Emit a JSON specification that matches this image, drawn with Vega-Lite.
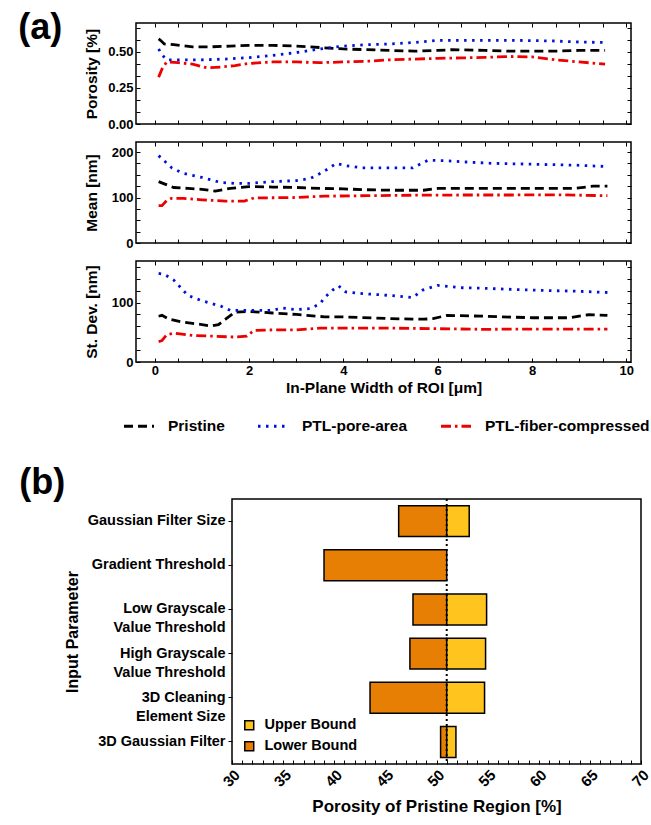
{
  "$schema": "https://vega.github.io/schema/vega-lite/v6.json",
  "padding": {"left": 15, "top": 10, "right": 1, "bottom": 3},
  "config": {
    "font": "Liberation Sans",
    "view": {"stroke": "black", "strokeWidth": 1.5},
    "axis": {"grid": false, "domain": false, "labelFontWeight": "bold", "titleFontWeight": "bold", "labelColor": "black", "titleColor": "black", "tickColor": "black", "labelFont": "Liberation Sans", "titleFont": "Liberation Sans", "labelOverlap": false, "labelFlush": false},
    "legend": {"labelFont": "Liberation Sans", "labelColor": "black"},
    "title": {"font": "Liberation Sans", "color": "black"}
  },
  "datasets": {
    "porosity": [
      {"series": "Pristine", "w": 0.08, "v": 0.59}, {"series": "Pristine", "w": 0.12, "v": 0.58}, {"series": "Pristine", "w": 0.2, "v": 0.555}, {"series": "Pristine", "w": 0.4, "v": 0.55}, {"series": "Pristine", "w": 0.8, "v": 0.535}, {"series": "Pristine", "w": 1.2, "v": 0.535}, {"series": "Pristine", "w": 1.6, "v": 0.54}, {"series": "Pristine", "w": 2.0, "v": 0.545}, {"series": "Pristine", "w": 2.5, "v": 0.545}, {"series": "Pristine", "w": 3.0, "v": 0.54}, {"series": "Pristine", "w": 3.5, "v": 0.53}, {"series": "Pristine", "w": 4.0, "v": 0.52}, {"series": "Pristine", "w": 4.5, "v": 0.515}, {"series": "Pristine", "w": 5.0, "v": 0.51}, {"series": "Pristine", "w": 5.5, "v": 0.505}, {"series": "Pristine", "w": 6.0, "v": 0.51}, {"series": "Pristine", "w": 6.3, "v": 0.515}, {"series": "Pristine", "w": 7.0, "v": 0.51}, {"series": "Pristine", "w": 7.5, "v": 0.505}, {"series": "Pristine", "w": 8.0, "v": 0.505}, {"series": "Pristine", "w": 8.5, "v": 0.505}, {"series": "Pristine", "w": 9.0, "v": 0.51}, {"series": "Pristine", "w": 9.55, "v": 0.51},
      {"series": "PTL-pore-area", "w": 0.08, "v": 0.52}, {"series": "PTL-pore-area", "w": 0.15, "v": 0.48}, {"series": "PTL-pore-area", "w": 0.25, "v": 0.445}, {"series": "PTL-pore-area", "w": 0.5, "v": 0.445}, {"series": "PTL-pore-area", "w": 1.0, "v": 0.445}, {"series": "PTL-pore-area", "w": 1.5, "v": 0.45}, {"series": "PTL-pore-area", "w": 2.0, "v": 0.46}, {"series": "PTL-pore-area", "w": 2.5, "v": 0.475}, {"series": "PTL-pore-area", "w": 3.0, "v": 0.495}, {"series": "PTL-pore-area", "w": 3.5, "v": 0.52}, {"series": "PTL-pore-area", "w": 4.0, "v": 0.54}, {"series": "PTL-pore-area", "w": 4.5, "v": 0.55}, {"series": "PTL-pore-area", "w": 5.0, "v": 0.555}, {"series": "PTL-pore-area", "w": 5.5, "v": 0.565}, {"series": "PTL-pore-area", "w": 6.0, "v": 0.58}, {"series": "PTL-pore-area", "w": 6.5, "v": 0.58}, {"series": "PTL-pore-area", "w": 7.0, "v": 0.58}, {"series": "PTL-pore-area", "w": 7.5, "v": 0.58}, {"series": "PTL-pore-area", "w": 8.0, "v": 0.578}, {"series": "PTL-pore-area", "w": 8.5, "v": 0.575}, {"series": "PTL-pore-area", "w": 9.0, "v": 0.568}, {"series": "PTL-pore-area", "w": 9.55, "v": 0.565},
      {"series": "PTL-fiber-compressed", "w": 0.08, "v": 0.325}, {"series": "PTL-fiber-compressed", "w": 0.15, "v": 0.38}, {"series": "PTL-fiber-compressed", "w": 0.25, "v": 0.43}, {"series": "PTL-fiber-compressed", "w": 0.5, "v": 0.425}, {"series": "PTL-fiber-compressed", "w": 0.8, "v": 0.415}, {"series": "PTL-fiber-compressed", "w": 1.1, "v": 0.39}, {"series": "PTL-fiber-compressed", "w": 1.4, "v": 0.395}, {"series": "PTL-fiber-compressed", "w": 1.7, "v": 0.405}, {"series": "PTL-fiber-compressed", "w": 2.0, "v": 0.42}, {"series": "PTL-fiber-compressed", "w": 2.5, "v": 0.43}, {"series": "PTL-fiber-compressed", "w": 3.0, "v": 0.43}, {"series": "PTL-fiber-compressed", "w": 3.5, "v": 0.425}, {"series": "PTL-fiber-compressed", "w": 4.0, "v": 0.43}, {"series": "PTL-fiber-compressed", "w": 4.5, "v": 0.435}, {"series": "PTL-fiber-compressed", "w": 5.0, "v": 0.445}, {"series": "PTL-fiber-compressed", "w": 5.5, "v": 0.45}, {"series": "PTL-fiber-compressed", "w": 6.0, "v": 0.455}, {"series": "PTL-fiber-compressed", "w": 6.5, "v": 0.458}, {"series": "PTL-fiber-compressed", "w": 7.0, "v": 0.462}, {"series": "PTL-fiber-compressed", "w": 7.5, "v": 0.468}, {"series": "PTL-fiber-compressed", "w": 8.0, "v": 0.465}, {"series": "PTL-fiber-compressed", "w": 8.5, "v": 0.445}, {"series": "PTL-fiber-compressed", "w": 9.0, "v": 0.43}, {"series": "PTL-fiber-compressed", "w": 9.55, "v": 0.415}
    ],
    "mean": [
      {"series": "Pristine", "w": 0.08, "v": 135}, {"series": "Pristine", "w": 0.2, "v": 130}, {"series": "Pristine", "w": 0.4, "v": 122}, {"series": "Pristine", "w": 0.7, "v": 120}, {"series": "Pristine", "w": 1.0, "v": 118}, {"series": "Pristine", "w": 1.28, "v": 114}, {"series": "Pristine", "w": 1.6, "v": 120}, {"series": "Pristine", "w": 2.0, "v": 124}, {"series": "Pristine", "w": 2.5, "v": 123}, {"series": "Pristine", "w": 3.0, "v": 122}, {"series": "Pristine", "w": 3.5, "v": 120}, {"series": "Pristine", "w": 4.0, "v": 119}, {"series": "Pristine", "w": 4.5, "v": 117}, {"series": "Pristine", "w": 5.0, "v": 116}, {"series": "Pristine", "w": 5.7, "v": 116}, {"series": "Pristine", "w": 6.0, "v": 120}, {"series": "Pristine", "w": 7.0, "v": 120}, {"series": "Pristine", "w": 8.0, "v": 120}, {"series": "Pristine", "w": 8.9, "v": 120}, {"series": "Pristine", "w": 9.3, "v": 125}, {"series": "Pristine", "w": 9.6, "v": 125},
      {"series": "PTL-pore-area", "w": 0.08, "v": 192}, {"series": "PTL-pore-area", "w": 0.36, "v": 165}, {"series": "PTL-pore-area", "w": 0.6, "v": 153}, {"series": "PTL-pore-area", "w": 1.0, "v": 144}, {"series": "PTL-pore-area", "w": 1.4, "v": 133}, {"series": "PTL-pore-area", "w": 1.7, "v": 131}, {"series": "PTL-pore-area", "w": 2.0, "v": 131}, {"series": "PTL-pore-area", "w": 2.5, "v": 135}, {"series": "PTL-pore-area", "w": 3.0, "v": 137}, {"series": "PTL-pore-area", "w": 3.3, "v": 142}, {"series": "PTL-pore-area", "w": 3.55, "v": 155}, {"series": "PTL-pore-area", "w": 3.7, "v": 165}, {"series": "PTL-pore-area", "w": 3.85, "v": 175}, {"series": "PTL-pore-area", "w": 4.05, "v": 170}, {"series": "PTL-pore-area", "w": 4.4, "v": 165}, {"series": "PTL-pore-area", "w": 5.0, "v": 165}, {"series": "PTL-pore-area", "w": 5.47, "v": 165}, {"series": "PTL-pore-area", "w": 5.64, "v": 174}, {"series": "PTL-pore-area", "w": 5.8, "v": 182}, {"series": "PTL-pore-area", "w": 6.17, "v": 181}, {"series": "PTL-pore-area", "w": 6.6, "v": 178}, {"series": "PTL-pore-area", "w": 7.17, "v": 175}, {"series": "PTL-pore-area", "w": 8.1, "v": 173}, {"series": "PTL-pore-area", "w": 8.94, "v": 171}, {"series": "PTL-pore-area", "w": 9.6, "v": 168},
      {"series": "PTL-fiber-compressed", "w": 0.08, "v": 82}, {"series": "PTL-fiber-compressed", "w": 0.15, "v": 82}, {"series": "PTL-fiber-compressed", "w": 0.25, "v": 93}, {"series": "PTL-fiber-compressed", "w": 0.35, "v": 98}, {"series": "PTL-fiber-compressed", "w": 0.6, "v": 98}, {"series": "PTL-fiber-compressed", "w": 1.0, "v": 95}, {"series": "PTL-fiber-compressed", "w": 1.5, "v": 92}, {"series": "PTL-fiber-compressed", "w": 1.9, "v": 92}, {"series": "PTL-fiber-compressed", "w": 2.1, "v": 99}, {"series": "PTL-fiber-compressed", "w": 3.0, "v": 100}, {"series": "PTL-fiber-compressed", "w": 3.6, "v": 103}, {"series": "PTL-fiber-compressed", "w": 4.5, "v": 104}, {"series": "PTL-fiber-compressed", "w": 5.5, "v": 105}, {"series": "PTL-fiber-compressed", "w": 6.5, "v": 105.5}, {"series": "PTL-fiber-compressed", "w": 7.5, "v": 105.5}, {"series": "PTL-fiber-compressed", "w": 8.5, "v": 106}, {"series": "PTL-fiber-compressed", "w": 9.6, "v": 104}
    ],
    "std": [
      {"series": "Pristine", "w": 0.08, "v": 77}, {"series": "Pristine", "w": 0.15, "v": 78.5}, {"series": "Pristine", "w": 0.3, "v": 72}, {"series": "Pristine", "w": 0.6, "v": 67}, {"series": "Pristine", "w": 1.0, "v": 63}, {"series": "Pristine", "w": 1.2, "v": 60.5}, {"series": "Pristine", "w": 1.35, "v": 63}, {"series": "Pristine", "w": 1.5, "v": 72}, {"series": "Pristine", "w": 1.7, "v": 84}, {"series": "Pristine", "w": 2.0, "v": 85}, {"series": "Pristine", "w": 2.5, "v": 82.5}, {"series": "Pristine", "w": 3.0, "v": 80}, {"series": "Pristine", "w": 3.6, "v": 76}, {"series": "Pristine", "w": 4.0, "v": 76}, {"series": "Pristine", "w": 5.0, "v": 73}, {"series": "Pristine", "w": 5.7, "v": 72}, {"series": "Pristine", "w": 5.9, "v": 73}, {"series": "Pristine", "w": 6.2, "v": 78.5}, {"series": "Pristine", "w": 7.0, "v": 77}, {"series": "Pristine", "w": 8.0, "v": 74.5}, {"series": "Pristine", "w": 8.8, "v": 74.5}, {"series": "Pristine", "w": 9.2, "v": 79.5}, {"series": "Pristine", "w": 9.6, "v": 78.5},
      {"series": "PTL-pore-area", "w": 0.08, "v": 149}, {"series": "PTL-pore-area", "w": 0.2, "v": 147.5}, {"series": "PTL-pore-area", "w": 0.4, "v": 138}, {"series": "PTL-pore-area", "w": 0.7, "v": 112}, {"series": "PTL-pore-area", "w": 1.0, "v": 103}, {"series": "PTL-pore-area", "w": 1.4, "v": 94}, {"series": "PTL-pore-area", "w": 1.6, "v": 87}, {"series": "PTL-pore-area", "w": 2.0, "v": 87}, {"series": "PTL-pore-area", "w": 2.5, "v": 87}, {"series": "PTL-pore-area", "w": 2.7, "v": 91}, {"series": "PTL-pore-area", "w": 3.0, "v": 88}, {"series": "PTL-pore-area", "w": 3.3, "v": 90}, {"series": "PTL-pore-area", "w": 3.5, "v": 98}, {"series": "PTL-pore-area", "w": 3.62, "v": 110}, {"series": "PTL-pore-area", "w": 3.77, "v": 121}, {"series": "PTL-pore-area", "w": 3.9, "v": 128}, {"series": "PTL-pore-area", "w": 4.05, "v": 118}, {"series": "PTL-pore-area", "w": 4.4, "v": 115}, {"series": "PTL-pore-area", "w": 5.0, "v": 112}, {"series": "PTL-pore-area", "w": 5.47, "v": 108.5}, {"series": "PTL-pore-area", "w": 5.68, "v": 121}, {"series": "PTL-pore-area", "w": 6.0, "v": 129}, {"series": "PTL-pore-area", "w": 6.53, "v": 125}, {"series": "PTL-pore-area", "w": 7.0, "v": 124}, {"series": "PTL-pore-area", "w": 8.0, "v": 121}, {"series": "PTL-pore-area", "w": 9.0, "v": 119}, {"series": "PTL-pore-area", "w": 9.6, "v": 117},
      {"series": "PTL-fiber-compressed", "w": 0.08, "v": 34}, {"series": "PTL-fiber-compressed", "w": 0.15, "v": 36}, {"series": "PTL-fiber-compressed", "w": 0.25, "v": 46}, {"series": "PTL-fiber-compressed", "w": 0.4, "v": 48.6}, {"series": "PTL-fiber-compressed", "w": 0.8, "v": 44.6}, {"series": "PTL-fiber-compressed", "w": 1.2, "v": 43.5}, {"series": "PTL-fiber-compressed", "w": 1.7, "v": 42}, {"series": "PTL-fiber-compressed", "w": 1.95, "v": 43.5}, {"series": "PTL-fiber-compressed", "w": 2.1, "v": 53}, {"series": "PTL-fiber-compressed", "w": 2.5, "v": 54}, {"series": "PTL-fiber-compressed", "w": 3.0, "v": 54}, {"series": "PTL-fiber-compressed", "w": 3.5, "v": 57}, {"series": "PTL-fiber-compressed", "w": 4.0, "v": 57}, {"series": "PTL-fiber-compressed", "w": 5.0, "v": 57}, {"series": "PTL-fiber-compressed", "w": 6.0, "v": 56}, {"series": "PTL-fiber-compressed", "w": 7.0, "v": 55}, {"series": "PTL-fiber-compressed", "w": 8.0, "v": 55.5}, {"series": "PTL-fiber-compressed", "w": 9.6, "v": 55.5}
    ],
    "bars": [
      {"param": "Gaussian Filter Size", "bound": "Lower Bound", "start": 46.3, "end": 51.0},
      {"param": "Gaussian Filter Size", "bound": "Upper Bound", "start": 51.0, "end": 53.2},
      {"param": "Gradient Threshold", "bound": "Lower Bound", "start": 39.0, "end": 51.0},
      {"param": "Low Grayscale Value Threshold", "bound": "Lower Bound", "start": 47.7, "end": 51.0},
      {"param": "Low Grayscale Value Threshold", "bound": "Upper Bound", "start": 51.0, "end": 54.9},
      {"param": "High Grayscale Value Threshold", "bound": "Lower Bound", "start": 47.4, "end": 51.0},
      {"param": "High Grayscale Value Threshold", "bound": "Upper Bound", "start": 51.0, "end": 54.8},
      {"param": "3D Cleaning Element Size", "bound": "Lower Bound", "start": 43.5, "end": 51.0},
      {"param": "3D Cleaning Element Size", "bound": "Upper Bound", "start": 51.0, "end": 54.7},
      {"param": "3D Gaussian Filter", "bound": "Lower Bound", "start": 50.4, "end": 51.0},
      {"param": "3D Gaussian Filter", "bound": "Upper Bound", "start": 51.0, "end": 51.9}
    ],
    "pristine": [{"start": 51.0}]
  },
  "spacing": 28,
  "resolve": {
    "scale": {"color": "independent", "strokeDash": "independent", "fill": "independent"},
    "legend": {"color": "independent", "strokeDash": "independent", "fill": "independent"}
  },
  "vconcat": [
    {
      "spacing": 0,
      "resolve": {
        "scale": {"color": "independent", "strokeDash": "independent"},
        "legend": {"color": "independent", "strokeDash": "independent"}
      },
      "hconcat": [
        {"width": 1, "height": 1, "view": {"stroke": "transparent"}, "data": {"values": []}, "mark": {"type": "point", "opacity": 0}},
        {
          "title": {"text": "(a)", "anchor": "start", "frame": "bounds", "fontSize": 36, "fontWeight": "bold", "dx": -65, "offset": -26},
          "spacing": 8,
          "resolve": {
            "scale": {"color": "independent", "strokeDash": "independent"},
            "legend": {"color": "independent", "strokeDash": "independent"}
          },
          "vconcat": [
            {
              "width": 495, "height": 101,
              "data": {"name": "porosity"},
              "layer": [
                {
                  "mark": {"type": "line", "strokeWidth": 2.8, "clip": true},
                  "encoding": {
                    "x": {"field": "w", "type": "quantitative", "scale": {"domain": [-0.4, 10.1], "nice": false, "zero": false}, "axis": {"values": [0,0.5,1,1.5,2,2.5,3,3.5,4,4.5,5,5.5,6,6.5,7,7.5,8,8.5,9,9.5,10], "labels": false, "title": null, "tickSize": -4}},
                    "y": {"field": "v", "type": "quantitative", "scale": {"domain": [0, 0.7], "nice": false, "zero": false}, "axis": {"values": [0,0.08333,0.16667,0.25,0.33333,0.41667,0.5,0.58333,0.66667], "labelExpr": "(datum.value == 0 || datum.value == 0.25 || datum.value == 0.5) ? format(datum.value, '.2f') : ''", "labelOverlap": false, "title": "Porosity [%]", "tickSize": -4, "labelPadding": 7, "labelFontSize": 13, "titleFontSize": 15.5, "minExtent": 30, "titlePadding": 7}},
                    "color": {"field": "series", "type": "nominal", "scale": {"domain": ["Pristine", "PTL-pore-area", "PTL-fiber-compressed"], "range": ["#000000", "#0010D8", "#EE0000"]}, "legend": null},
                    "strokeDash": {"field": "series", "type": "nominal", "scale": {"domain": ["Pristine", "PTL-pore-area", "PTL-fiber-compressed"], "range": [[9, 5], [2.5, 5.5], [10, 4, 2.5, 4]]}, "legend": null}
                  }
                },
                {
                  "mark": {"type": "line", "opacity": 0},
                  "encoding": {
                    "x": {"field": "w", "type": "quantitative", "scale": {"domain": [-0.4, 10.1], "nice": false, "zero": false}, "axis": {"orient": "top", "values": [0,0.5,1,1.5,2,2.5,3,3.5,4,4.5,5,5.5,6,6.5,7,7.5,8,8.5,9,9.5,10], "labels": false, "title": null, "tickSize": -4}},
                    "y": {"field": "v", "type": "quantitative", "scale": {"domain": [0, 0.7], "nice": false, "zero": false}, "axis": {"orient": "right", "values": [0,0.08333,0.16667,0.25,0.33333,0.41667,0.5,0.58333,0.66667], "labels": false, "title": null, "tickSize": -4}}
                  }
                }
              ],
              "resolve": {"axis": {"x": "independent", "y": "independent"}}
            },
            {
              "width": 495, "height": 101,
              "data": {"name": "mean"},
              "layer": [
                {
                  "mark": {"type": "line", "strokeWidth": 2.8, "clip": true},
                  "encoding": {
                    "x": {"field": "w", "type": "quantitative", "scale": {"domain": [-0.4, 10.1], "nice": false, "zero": false}, "axis": {"values": [0,0.5,1,1.5,2,2.5,3,3.5,4,4.5,5,5.5,6,6.5,7,7.5,8,8.5,9,9.5,10], "labels": false, "title": null, "tickSize": -4}},
                    "y": {"field": "v", "type": "quantitative", "scale": {"domain": [0, 222], "nice": false, "zero": false}, "axis": {"values": [0,25,50,75,100,125,150,175,200], "labelExpr": "datum.value % 100 == 0 ? format(datum.value, 'd') : ''", "labelOverlap": false, "title": "Mean [nm]", "tickSize": -4, "labelPadding": 7, "labelFontSize": 13, "titleFontSize": 15.5, "minExtent": 30, "titlePadding": 7}},
                    "color": {"field": "series", "type": "nominal", "scale": {"domain": ["Pristine", "PTL-pore-area", "PTL-fiber-compressed"], "range": ["#000000", "#0010D8", "#EE0000"]}, "legend": null},
                    "strokeDash": {"field": "series", "type": "nominal", "scale": {"domain": ["Pristine", "PTL-pore-area", "PTL-fiber-compressed"], "range": [[9, 5], [2.5, 5.5], [10, 4, 2.5, 4]]}, "legend": null}
                  }
                },
                {
                  "mark": {"type": "line", "opacity": 0},
                  "encoding": {
                    "x": {"field": "w", "type": "quantitative", "scale": {"domain": [-0.4, 10.1], "nice": false, "zero": false}, "axis": {"orient": "top", "values": [0,0.5,1,1.5,2,2.5,3,3.5,4,4.5,5,5.5,6,6.5,7,7.5,8,8.5,9,9.5,10], "labels": false, "title": null, "tickSize": -4}},
                    "y": {"field": "v", "type": "quantitative", "scale": {"domain": [0, 222], "nice": false, "zero": false}, "axis": {"orient": "right", "values": [0,25,50,75,100,125,150,175,200], "labels": false, "title": null, "tickSize": -4}}
                  }
                }
              ],
              "resolve": {"axis": {"x": "independent", "y": "independent"}}
            },
            {
              "width": 495, "height": 101,
              "data": {"name": "std"},
              "layer": [
                {
                  "mark": {"type": "line", "strokeWidth": 2.8, "clip": true},
                  "encoding": {
                    "x": {"field": "w", "type": "quantitative", "scale": {"domain": [-0.4, 10.1], "nice": false, "zero": false}, "axis": {"values": [0,0.5,1,1.5,2,2.5,3,3.5,4,4.5,5,5.5,6,6.5,7,7.5,8,8.5,9,9.5,10], "labelExpr": "datum.value % 2 == 0 ? format(datum.value, 'd') : ''", "labelOverlap": false, "title": "In-Plane Width of ROI [μm]", "tickSize": -4, "labelPadding": 6, "labelFontSize": 13, "titleFontSize": 15.5, "titlePadding": 3}},
                    "y": {"field": "v", "type": "quantitative", "scale": {"domain": [0, 170], "nice": false, "zero": false}, "axis": {"values": [0,20,40,60,80,100,120,140,160], "labelExpr": "datum.value % 100 == 0 ? format(datum.value, 'd') : ''", "labelOverlap": false, "title": "St. Dev. [nm]", "tickSize": -4, "labelPadding": 7, "labelFontSize": 13, "titleFontSize": 15.5, "minExtent": 30, "titlePadding": 7}},
                    "color": {"field": "series", "type": "nominal", "scale": {"domain": ["Pristine", "PTL-pore-area", "PTL-fiber-compressed"], "range": ["#000000", "#0010D8", "#EE0000"]}, "legend": {"orient": "none", "legendX": -14, "legendY": 148, "direction": "horizontal", "title": null, "symbolType": "stroke", "symbolSize": 900, "symbolStrokeWidth": 3.2, "labelFontSize": 15.5, "labelFontWeight": "bold", "labelOffset": 12, "columnPadding": 26, "labelLimit": 300}},
                    "strokeDash": {"field": "series", "type": "nominal", "scale": {"domain": ["Pristine", "PTL-pore-area", "PTL-fiber-compressed"], "range": [[9, 5], [2.5, 5.5], [10, 4, 2.5, 4]]}, "legend": {"orient": "none", "legendX": -14, "legendY": 148, "direction": "horizontal", "title": null, "symbolType": "stroke", "symbolSize": 900, "symbolStrokeWidth": 3.2, "labelFontSize": 15.5, "labelFontWeight": "bold", "labelOffset": 12, "columnPadding": 26, "labelLimit": 300}}
                  }
                },
                {
                  "mark": {"type": "line", "opacity": 0},
                  "encoding": {
                    "x": {"field": "w", "type": "quantitative", "scale": {"domain": [-0.4, 10.1], "nice": false, "zero": false}, "axis": {"orient": "top", "values": [0,0.5,1,1.5,2,2.5,3,3.5,4,4.5,5,5.5,6,6.5,7,7.5,8,8.5,9,9.5,10], "labels": false, "title": null, "tickSize": -4}},
                    "y": {"field": "v", "type": "quantitative", "scale": {"domain": [0, 170], "nice": false, "zero": false}, "axis": {"orient": "right", "values": [0,20,40,60,80,100,120,140,160], "labels": false, "title": null, "tickSize": -4}}
                  }
                }
              ],
              "resolve": {"axis": {"x": "independent", "y": "independent"}}
            }
          ]
        }
      ]
    },
    {
      "spacing": 0,
      "resolve": {
        "scale": {"fill": "independent"},
        "legend": {"fill": "independent"}
      },
      "hconcat": [
        {"width": 1, "height": 1, "view": {"stroke": "transparent"}, "data": {"values": []}, "mark": {"type": "point", "opacity": 0}},
        {
          "title": {"text": "(b)", "anchor": "start", "frame": "bounds", "fontSize": 36, "fontWeight": "bold", "dx": -45, "offset": -4},
          "width": 409, "height": 265,
          "layer": [
            {
              "data": {"name": "bars"},
              "mark": {"type": "bar", "stroke": "black", "strokeWidth": 1.5},
              "encoding": {
                "y": {"field": "param", "type": "nominal", "sort": ["Gaussian Filter Size", "Gradient Threshold", "Low Grayscale Value Threshold", "High Grayscale Value Threshold", "3D Cleaning Element Size", "3D Gaussian Filter"], "scale": {"paddingInner": 0.3, "paddingOuter": 0.15}, "axis": {"title": "Input Parameter", "titleFontSize": 16, "titlePadding": 7, "labelFontSize": 14.5, "labelLineHeight": 19, "labelExpr": "datum.value == 'Low Grayscale Value Threshold' ? ['Low Grayscale', 'Value Threshold'] : datum.value == 'High Grayscale Value Threshold' ? ['High Grayscale', 'Value Threshold'] : datum.value == '3D Cleaning Element Size' ? ['3D Cleaning', 'Element Size'] : datum.label", "tickSize": 4, "labelPadding": 3, "labelLimit": 300}},
                "x": {"field": "start", "type": "quantitative", "scale": {"domain": [30, 70], "nice": false, "zero": false}, "axis": {"values": [30,31,32,33,34,35,36,37,38,39,40,41,42,43,44,45,46,47,48,49,50,51,52,53,54,55,56,57,58,59,60,61,62,63,64,65,66,67,68,69,70], "labelExpr": "datum.value % 5 == 0 ? format(datum.value, 'd') : ''", "labelOverlap": false, "labelAngle": -45, "labelFontSize": 15, "tickSize": -4, "labelPadding": 7, "title": "Porosity of Pristine Region [%]", "titleFontSize": 17, "titlePadding": 9}},
                "x2": {"field": "end"},
                "fill": {"field": "bound", "type": "nominal", "scale": {"domain": ["Upper Bound", "Lower Bound"], "range": ["#FFC41E", "#E87F05"]}, "legend": {"orient": "bottom-left", "title": null, "symbolType": "square", "symbolSize": 80, "symbolStrokeColor": "black", "symbolStrokeWidth": 1.5, "labelFontSize": 14.5, "labelFontWeight": "bold", "labelOffset": 8, "rowPadding": 5, "offset": 10}}
              }
            },
            {
              "data": {"name": "pristine"},
              "mark": {"type": "rule", "strokeDash": [2, 3], "strokeWidth": 2, "color": "black"},
              "encoding": {"x": {"field": "start", "type": "quantitative", "scale": {"domain": [30, 70], "nice": false, "zero": false}, "axis": {"values": [30,31,32,33,34,35,36,37,38,39,40,41,42,43,44,45,46,47,48,49,50,51,52,53,54,55,56,57,58,59,60,61,62,63,64,65,66,67,68,69,70], "labelExpr": "datum.value % 5 == 0 ? format(datum.value, 'd') : ''", "labelOverlap": false, "labelAngle": -45, "labelFontSize": 15, "tickSize": -4, "labelPadding": 7, "title": "Porosity of Pristine Region [%]", "titleFontSize": 17, "titlePadding": 9}}}
            }
          ]
        }
      ]
    }
  ]
}
